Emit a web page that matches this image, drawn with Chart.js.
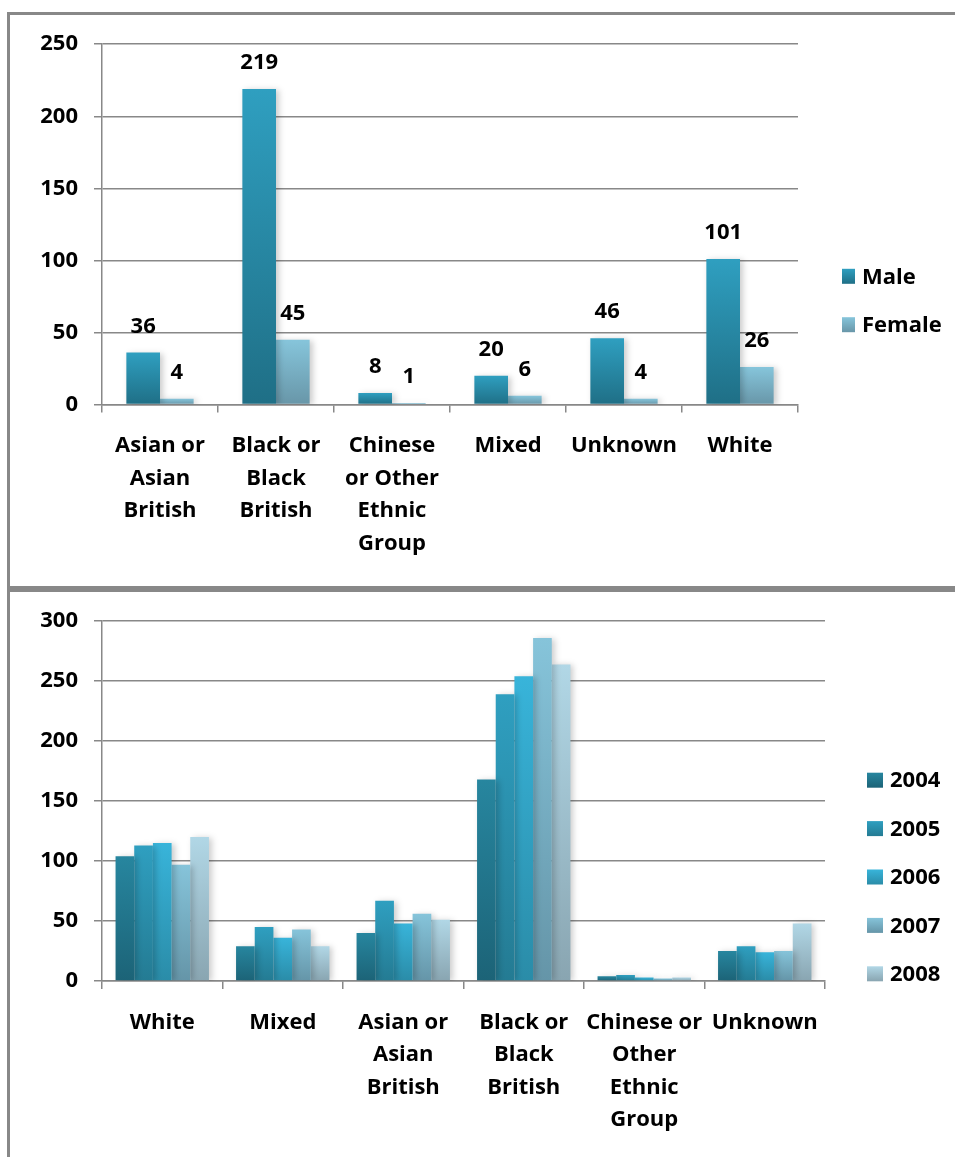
<!DOCTYPE html>
<html>
<head>
<meta charset="utf-8">
<title>Ethnicity breakdown</title>
<script src="https://cdn.jsdelivr.net/npm/chart.js@4.4.1/dist/chart.umd.min.js"></script>
<style>
    html, body { margin: 0; padding: 0; background: #fff; overflow: hidden; width: 955px; height: 1157px; }
    .panel { position: absolute; left: 7px; width: 1000px; border: 3px solid #888; background: #fff; }
    #panelGender { top: 12px; height: 571px; }
    #panelYears { top: 589px; height: 600px; }
    canvas { display: block; }
</style>
</head>
<body>
<div class="panel" id="panelGender"><canvas id="genderChart" width="945" height="571"></canvas></div>
<div class="panel" id="panelYears"><canvas id="yearChart" width="945" height="570"></canvas></div>

<script>
// Top chart: by gender
const genderLabels = [
    ['Asian or', 'Asian', 'British'],
    ['Black or', 'Black', 'British'],
    ['Chinese', 'or Other', 'Ethnic', 'Group'],
    'Mixed',
    'Unknown',
    'White'
];
const maleValues = [36, 219, 8, 20, 46, 101];
const femaleValues = [4, 45, 1, 6, 4, 26];
const genderTicks = [0, 50, 100, 150, 200, 250];

// Bottom chart: by year
const yearLabels = [
    'White',
    'Mixed',
    ['Asian or', 'Asian', 'British'],
    ['Black or', 'Black', 'British'],
    ['Chinese or', 'Other', 'Ethnic', 'Group'],
    'Unknown'
];
const years = ['2004', '2005', '2006', '2007', '2008'];
const values2004 = [104, 29, 40, 168, 4, 25];
const values2005 = [113, 45, 67, 239, 5, 29];
const values2006 = [115, 36, 48, 254, 3, 24];
const values2007 = [97, 43, 56, 286, 2, 25];
const values2008 = [120, 29, 51, 264, 3, 48];
const yearTicks = [0, 50, 100, 150, 200, 250, 300];

// top / bottom colours of each bar gradient
const shades = {
    male:   ['#2f9fc0', '#1f6f86'],
    female: ['#86c5db', '#6896a8'],
    y2004:  ['#27869f', '#1c6377'],
    y2005:  ['#2f9fc0', '#247b93'],
    y2006:  ['#38b4da', '#2a8ca8'],
    y2007:  ['#86c4da', '#6595a8'],
    y2008:  ['#b1d7e6', '#89a5b1']
};

const FONT = "'Open Sans', sans-serif";
Chart.defaults.font.family = FONT;
Chart.defaults.font.size = 22;
Chart.defaults.font.weight = 'bold';
Chart.defaults.color = '#000';

// vertical gradient for every bar, light at the top
function barFill(pair) {
    return function (c) {
        const yScale = c.chart.scales.y;
        if (c.type !== 'data' || !yScale) return pair[0];
        const top = yScale.getPixelForValue(c.raw);
        const base = yScale.getPixelForValue(0);
        if (!isFinite(top) || !isFinite(base) || top === base) return pair[0];
        const g = c.chart.ctx.createLinearGradient(0, top, 0, base);
        g.addColorStop(0, pair[0]);
        g.addColorStop(1, pair[1]);
        return g;
    };
}

// soft shadow behind the bars
const barShadow = {
    id: 'barShadow',
    beforeDatasetDraw(chart) {
        const ctx = chart.ctx;
        ctx.save();
        ctx.shadowColor = 'rgba(0, 0, 0, 0.2)';
        ctx.shadowBlur = 6;
        ctx.shadowOffsetX = 3;
        ctx.shadowOffsetY = 1;
    },
    afterDatasetDraw(chart) {
        chart.ctx.restore();
    }
};

// value printed above each bar
const valueLabels = {
    id: 'valueLabels',
    afterDatasetsDraw(chart) {
        const ctx = chart.ctx;
        ctx.save();
        ctx.font = 'bold 22px ' + FONT;
        ctx.fillStyle = '#000';
        ctx.textAlign = 'center';
        ctx.textBaseline = 'middle';
        chart.data.datasets.forEach((ds, i) => {
            chart.getDatasetMeta(i).data.forEach((bar, j) => {
                ctx.fillText(String(ds.data[j]), bar.x, bar.y - 26);
            });
        });
        ctx.restore();
    }
};

// legend on the right, square + label, centred vertically
const sideLegend = {
    id: 'sideLegend',
    afterDraw(chart, args, opts) {
        const ctx = chart.ctx;
        const sets = chart.data.datasets;
        const step = opts.step || 48.4;
        const x = chart.chartArea.right + opts.gap;
        const midY = chart.height / 2;
        const startY = midY - step * (sets.length - 1) / 2;
        ctx.save();
        ctx.font = 'bold 22px ' + FONT;
        ctx.textBaseline = 'middle';
        ctx.textAlign = 'left';
        sets.forEach((ds, i) => {
            const cy = startY + i * step;
            const g = ctx.createLinearGradient(0, cy - 7.5, 0, cy + 7.5);
            g.addColorStop(0, ds.shade[0]);
            g.addColorStop(1, ds.shade[1]);
            ctx.fillStyle = g;
            ctx.fillRect(x, cy - 7.5, opts.box, 15);
            ctx.fillStyle = '#000';
            ctx.fillText(ds.label, x + opts.box + 7, cy + 1);
        });
        ctx.restore();
    }
};

function makeScales(maxValue, tickValues, xHeight) {
    return {
        x: {
            afterFit(scale) { scale.height = xHeight; },
            grid: {
                offset: true,
                drawOnChartArea: false,
                drawTicks: true,
                tickLength: 8,
                color: '#888',
                lineWidth: 1.5
            },
            border: { color: '#888', width: 1.5 },
            ticks: {
                padding: 17,
                maxRotation: 0,
                autoSkip: false,
                font: { lineHeight: 1.48 }
            }
        },
        y: {
            min: 0,
            max: maxValue,
            afterFit(scale) { scale.width = 92; },
            afterBuildTicks(scale) {
                scale.ticks = tickValues.map(v => ({ value: v }));
            },
            grid: { color: '#888', lineWidth: 1.5, tickLength: 8 },
            border: { color: '#888', width: 1.5 },
            ticks: { padding: 16 }
        }
    };
}

function initGenderChart() {
    const ctx = document.getElementById('genderChart').getContext('2d');
    return new Chart(ctx, {
        type: 'bar',
        data: {
            labels: genderLabels,
            datasets: [
                { label: 'Male', data: maleValues, shade: shades.male, backgroundColor: barFill(shades.male) },
                { label: 'Female', data: femaleValues, shade: shades.female, backgroundColor: barFill(shades.female) }
            ]
        },
        options: {
            responsive: false,
            animation: false,
            categoryPercentage: 0.58,
            barPercentage: 1,
            layout: { padding: { top: 27.3, right: 157, bottom: 0, left: 0 } },
            scales: makeScales(250, genderTicks, 181.5),
            plugins: {
                legend: { display: false },
                tooltip: { enabled: false },
                sideLegend: { gap: 44, box: 13 }
            }
        },
        plugins: [barShadow, valueLabels, sideLegend]
    });
}

function initYearChart() {
    const ctx = document.getElementById('yearChart').getContext('2d');
    const series = [values2004, values2005, values2006, values2007, values2008];
    const keys = ['y2004', 'y2005', 'y2006', 'y2007', 'y2008'];
    return new Chart(ctx, {
        type: 'bar',
        data: {
            labels: yearLabels,
            datasets: series.map((vals, i) => ({
                label: years[i],
                data: vals,
                shade: shades[keys[i]],
                backgroundColor: barFill(shades[keys[i]])
            }))
        },
        options: {
            responsive: false,
            animation: false,
            categoryPercentage: 0.775,
            barPercentage: 1,
            layout: { padding: { top: 27.7, right: 130, bottom: 0, left: 0 } },
            scales: makeScales(300, yearTicks, 181),
            plugins: {
                legend: { display: false },
                tooltip: { enabled: false },
                sideLegend: { gap: 42, box: 16 }
            }
        },
        plugins: [barShadow, sideLegend]
    });
}

initGenderChart();
initYearChart();
</script>
</body>
</html>
